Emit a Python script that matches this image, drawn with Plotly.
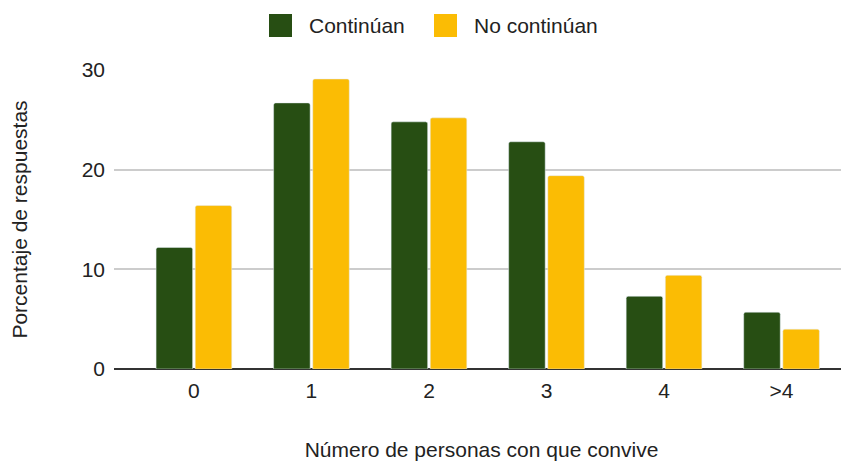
import plotly.graph_objects as go

# Data
categories = ["0", "1", "2", "3", "4", ">4"]
continuan = [12.2, 26.7, 24.8, 22.8, 7.3, 5.7]
no_continuan = [16.4, 29.1, 25.2, 19.4, 9.4, 4.0]
series_names = ["Continúan", "No continúan"]

GREEN = "#274e13"
YELLOW = "#fbbc04"
FONT = "Liberation Sans, Arial, sans-serif"

fig = go.Figure()

fig.add_trace(go.Bar(x=categories, y=continuan, name=series_names[0],
                     marker=dict(color=GREEN, cornerradius=2)))
fig.add_trace(go.Bar(x=categories, y=no_continuan, name=series_names[1],
                     marker=dict(color=YELLOW, cornerradius=2)))

# Hand-made legend: plotly caps legend symbol size, the reference uses big swatches
legend_items = [(series_names[0], GREEN, 0.2109), (series_names[1], YELLOW, 0.4354)]
for name, color, x0 in legend_items:
    fig.add_shape(type="rect", xref="paper", yref="paper",
                  x0=x0, x1=x0 + 0.0313, y0=1.1104, y1=1.1873,
                  fillcolor=color, line=dict(width=0), layer="above")
    fig.add_annotation(text=name, xref="paper", yref="paper",
                       x=x0 + 0.0517, y=1.1505, xanchor="left", yanchor="middle",
                       showarrow=False, font=dict(size=21))

fig.update_layout(
    width=849, height=464,
    paper_bgcolor="white", plot_bgcolor="white",
    font=dict(family=FONT, size=21, color="#222222"),
    barmode="group", bargap=0.334, bargroupgap=0.066,
    margin=dict(l=106, r=8, t=62, b=103, autoexpand=False),
    showlegend=False,
)

fig.update_xaxes(
    type="category", range=[-0.68, 5.574],
    showgrid=False, showline=False, ticks="",
    tickfont=dict(size=21), ticklabelstandoff=7,
    title=dict(text="Número de personas con que convive", font=dict(size=21), standoff=41),
)
fig.update_yaxes(
    range=[0, 30], tickvals=[0, 10, 20, 30],
    showgrid=True, gridcolor="#cccccc", gridwidth=1.5,
    zeroline=True, zerolinecolor="#333333", zerolinewidth=2,
    showline=False, ticks="", ticklabelstandoff=8,
    tickfont=dict(size=21),
    title=dict(text="Porcentaje de respuestas", font=dict(size=21), standoff=49),
)

fig.write_html("out.html")
